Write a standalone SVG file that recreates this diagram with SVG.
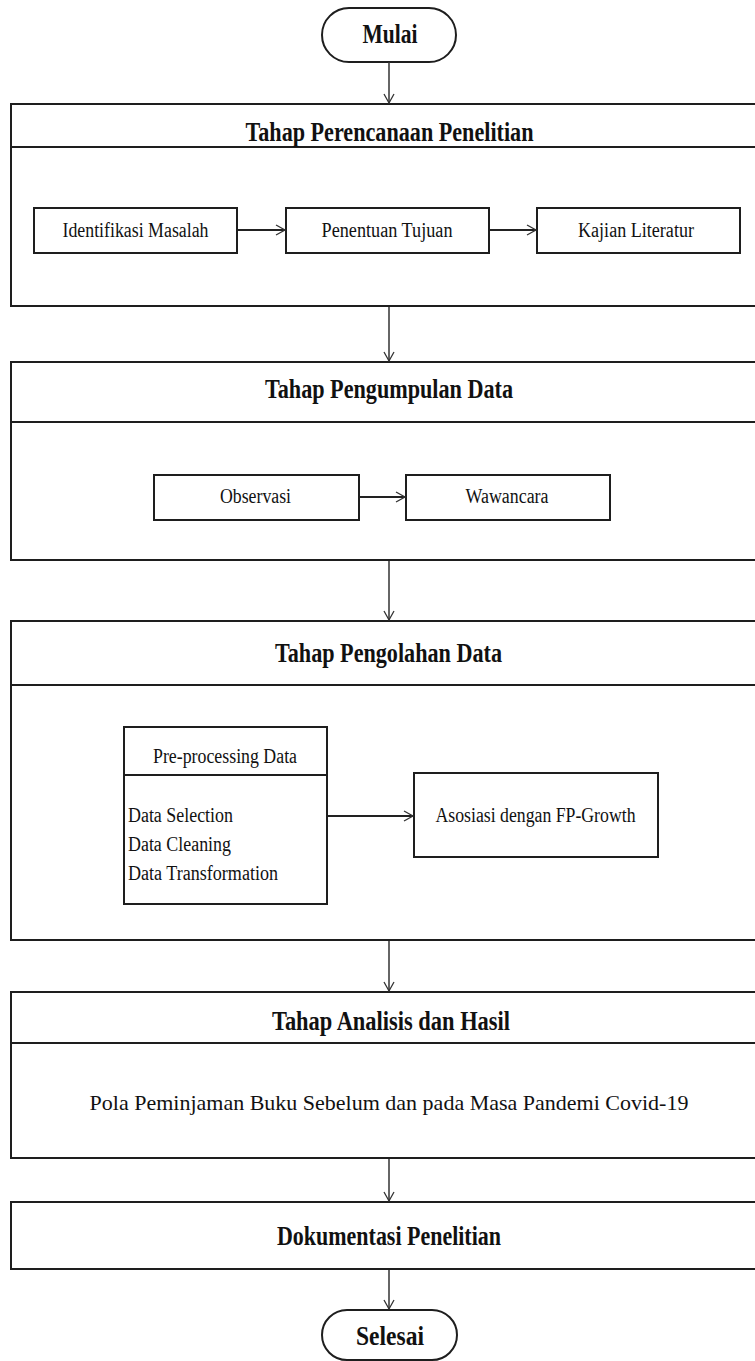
<svg xmlns="http://www.w3.org/2000/svg" width="755" height="1361" viewBox="0 0 755 1361">
<style>
.box{fill:#fff;stroke:#1e1e1e;stroke-width:2}
.sep{stroke:#1e1e1e;stroke-width:2}
.t{font-family:"Liberation Serif","Times New Roman",serif;fill:#111}
.h{font-size:27px;font-weight:bold;text-anchor:middle}
.l{font-size:20px;text-anchor:middle}
.ls{font-size:20px}
.c{fill:none;stroke:#333;stroke-width:1.5}
.ci{fill:none;stroke:#222;stroke-width:2}
</style>
<defs>
<marker id="ah" markerWidth="12" markerHeight="12" refX="10" refY="6" orient="auto" markerUnits="userSpaceOnUse">
<path d="M1,1 L10,6 L1,11" fill="none" stroke="#333" stroke-width="1.3"/>
</marker>
</defs>
<rect width="755" height="1361" fill="#fff"/>
<g id="mulai">
<rect class="box" x="322" y="8" width="134" height="54" rx="27"/>
<text class="t h" x="390" y="43" textLength="55" lengthAdjust="spacingAndGlyphs">Mulai</text>
</g>
<g id="tahap-perencanaan">
<rect class="box" x="11" y="104" width="757" height="202"/>
<line class="sep" x1="11" y1="147" x2="768" y2="147"/>
<text class="t h" x="389.5" y="141" textLength="288" lengthAdjust="spacingAndGlyphs">Tahap Perencanaan Penelitian</text>
</g>
<g id="identifikasi">
<rect class="box" x="34" y="208" width="203" height="45"/>
<text class="t l" x="135.5" y="237" textLength="146" lengthAdjust="spacingAndGlyphs">Identifikasi Masalah</text>
</g>
<g id="penentuan">
<rect class="box" x="286" y="208" width="203" height="45"/>
<text class="t l" x="387" y="237" textLength="131" lengthAdjust="spacingAndGlyphs">Penentuan Tujuan</text>
</g>
<g id="kajian">
<rect class="box" x="537" y="208" width="203" height="45"/>
<text class="t l" x="636" y="237" textLength="116" lengthAdjust="spacingAndGlyphs">Kajian Literatur</text>
</g>
<g id="tahap-pengumpulan">
<rect class="box" x="11" y="362" width="757" height="198"/>
<line class="sep" x1="11" y1="422" x2="768" y2="422"/>
<text class="t h" x="389" y="398" textLength="248" lengthAdjust="spacingAndGlyphs">Tahap Pengumpulan Data</text>
</g>
<g id="observasi">
<rect class="box" x="154" y="475" width="205" height="45"/>
<text class="t l" x="255.5" y="503" textLength="71" lengthAdjust="spacingAndGlyphs">Observasi</text>
</g>
<g id="wawancara">
<rect class="box" x="406" y="475" width="204" height="45"/>
<text class="t l" x="507" y="503" textLength="83" lengthAdjust="spacingAndGlyphs">Wawancara</text>
</g>
<g id="tahap-pengolahan">
<rect class="box" x="11" y="621" width="757" height="319"/>
<line class="sep" x1="11" y1="685" x2="768" y2="685"/>
<text class="t h" x="388.5" y="662" textLength="227" lengthAdjust="spacingAndGlyphs">Tahap Pengolahan Data</text>
</g>
<g id="preprocessing">
<rect class="box" x="124" y="727" width="203" height="177"/>
<line class="sep" x1="124" y1="775" x2="327" y2="775"/>
<text class="t l" x="225" y="763" textLength="144" lengthAdjust="spacingAndGlyphs">Pre-processing Data</text>
<text class="t ls" x="128" y="822" textLength="105" lengthAdjust="spacingAndGlyphs">Data Selection</text>
<text class="t ls" x="128" y="851" textLength="103" lengthAdjust="spacingAndGlyphs">Data Cleaning</text>
<text class="t ls" x="128" y="880" textLength="150" lengthAdjust="spacingAndGlyphs">Data Transformation</text>
</g>
<g id="asosiasi">
<rect class="box" x="414" y="773" width="244" height="84"/>
<text class="t l" x="535.5" y="822" textLength="200" lengthAdjust="spacingAndGlyphs">Asosiasi dengan FP-Growth</text>
</g>
<g id="tahap-analisis">
<rect class="box" x="11" y="992" width="757" height="166"/>
<line class="sep" x1="11" y1="1043" x2="768" y2="1043"/>
<text class="t h" x="391" y="1030" textLength="238" lengthAdjust="spacingAndGlyphs">Tahap Analisis dan Hasil</text>
<text class="t" x="389" y="1110" font-size="22" text-anchor="middle">Pola Peminjaman Buku Sebelum dan pada Masa Pandemi Covid-19</text>
</g>
<g id="dokumentasi">
<rect class="box" x="11" y="1202" width="757" height="67"/>
<text class="t h" x="389" y="1245" textLength="224" lengthAdjust="spacingAndGlyphs">Dokumentasi Penelitian</text>
</g>
<g id="selesai">
<rect class="box" x="322" y="1310" width="135" height="50" rx="25"/>
<text class="t h" x="390" y="1345" textLength="68" lengthAdjust="spacingAndGlyphs">Selesai</text>
</g>
<g id="connectors">
<line class="c" x1="389" y1="62" x2="389" y2="103" marker-end="url(#ah)"/>
<line class="c" x1="389" y1="307" x2="389" y2="361" marker-end="url(#ah)"/>
<line class="c" x1="389" y1="561" x2="389" y2="620" marker-end="url(#ah)"/>
<line class="c" x1="389" y1="941" x2="389" y2="991" marker-end="url(#ah)"/>
<line class="c" x1="389" y1="1159" x2="389" y2="1201" marker-end="url(#ah)"/>
<line class="c" x1="389" y1="1270" x2="389" y2="1309" marker-end="url(#ah)"/>
<line class="ci" x1="238" y1="230" x2="285" y2="230" marker-end="url(#ah)"/>
<line class="ci" x1="490" y1="230" x2="536" y2="230" marker-end="url(#ah)"/>
<line class="ci" x1="360" y1="497" x2="405" y2="497" marker-end="url(#ah)"/>
<line class="ci" x1="328" y1="816" x2="413" y2="816" marker-end="url(#ah)"/>
</g>
</svg>
